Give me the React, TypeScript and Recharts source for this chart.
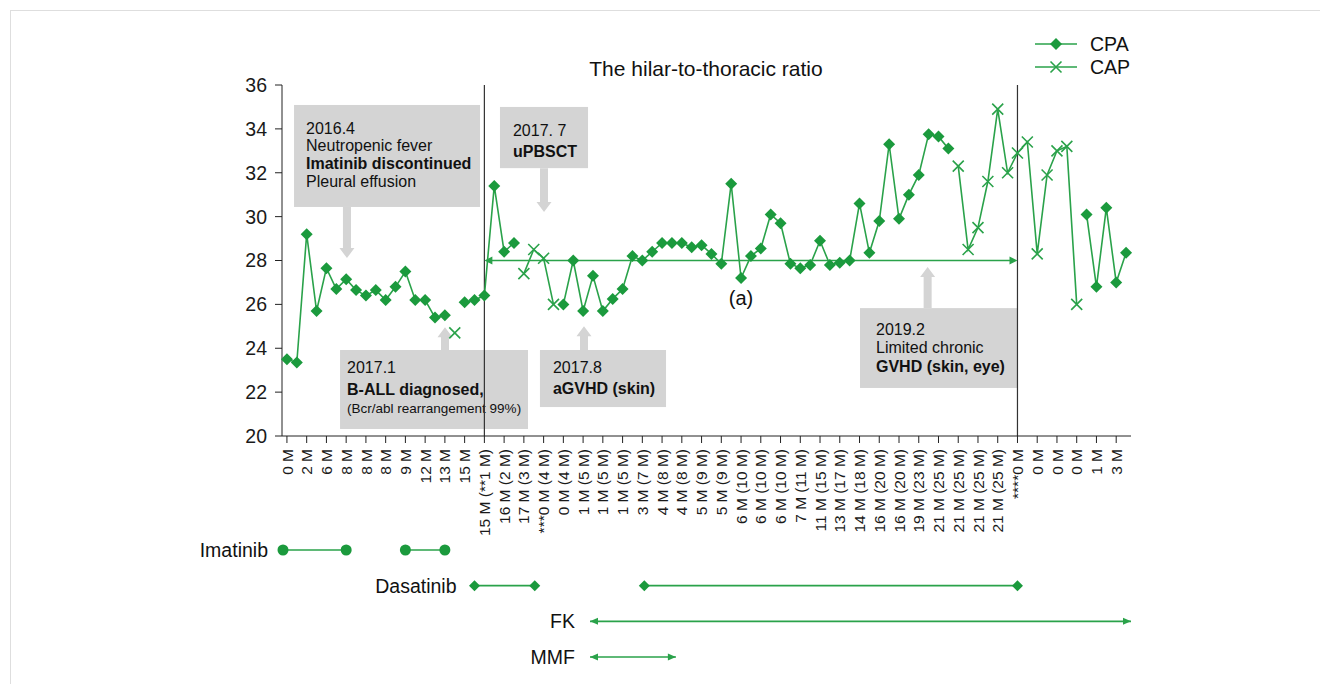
import React from "react";
import { LineChart, Line, XAxis, YAxis, ReferenceLine, ReferenceArea, ReferenceDot, Legend } from "recharts";

// every other category carries a label
const tickLabels = [
  "0 M", "2 M", "6 M", "8 M", "8 M", "8 M", "9 M", "12 M", "13 M", "15 M",
  "15 M (**1 M)", "16 M (2 M)", "17 M (3 M)", "***0 M (4 M)", "0 M (4 M)",
  "1 M (5 M)", "1 M (5 M)", "1 M (5 M)", "3 M (7 M)", "4 M (8 M)", "4 M (8 M)",
  "5 M (9 M)", "5 M (9 M)", "6 M (10 M)", "6 M (10 M)", "6 M (10 M)", "7 M (11 M)",
  "11 M (15 M)", "13 M (17 M)", "14 M (18 M)", "16 M (20 M)", "16 M (20 M)",
  "19 M (23 M)", "21 M (25 M)", "21 M (25 M)", "21 M (25 M)", "21 M (25 M)",
  "****0 M", "0 M", "0 M", "0 M", "1 M", "3 M",
];

const cpaValues = [
  23.5, 23.35, 29.2, 25.7, 27.65, 26.7, 27.15, 26.65, 26.4, 26.65,
  26.2, 26.8, 27.5, 26.2, 26.2, 25.4, 25.5, null, 26.1, 26.2,
  26.4, 31.4, 28.4, 28.8, null, null, null, null, 26.0, 28.0,
  25.7, 27.3, 25.7, 26.25, 26.7, 28.2, 28.0, 28.4, 28.8, 28.8,
  28.8, 28.6, 28.7, 28.3, 27.85, 31.5, 27.2, 28.2, 28.55, 30.1,
  29.7, 27.85, 27.65, 27.8, 28.9, 27.8, 27.9, 28.0, 30.6, 28.35,
  29.8, 33.3, 29.9, 31.0, 31.9, 33.75, 33.65, 33.1, null, null,
  null, null, null, null, null, null, null, null, null, null,
  null, 30.1, 26.8, 30.4, 27.0, 28.35,
];

const capValues = [
  null, null, null, null, null, null, null, null, null, null,
  null, null, null, null, null, null, null, 24.7, null, null,
  null, null, null, null, 27.4, 28.5, 28.1, 26.0, null, null,
  null, null, null, null, null, null, null, null, null, null,
  null, null, null, null, null, null, null, null, null, null,
  null, null, null, null, null, null, null, null, null, null,
  null, null, null, null, null, null, null, null, 32.3, 28.5,
  29.5, 31.6, 34.9, 32.0, 32.9, 33.4, 28.3, 31.9, 33.0, 33.2,
  26.0, null, null, null, null, null,
];

const yTicks = [20, 22, 24, 26, 28, 30, 32, 34, 36];

// treatment periods, in category positions
const imatinibSpans = [[-0.4, 6], [12, 16]];
const dasatinibSpans = [[19, 25.1], [36.2, 74]];
const fkSpans = [[30.7, 85.5]];
const mmfSpans = [[30.7, 39.4]];

const rows = cpaValues.map((v, i) => ({ idx: i, cpa: v, cap: capValues[i] }));
const tickIdx = tickLabels.map((_, i) => i * 2);

const GREEN = "#1b9a3d";
const LINE_GREEN = "#2aa24a";
const GREY = "#d4d4d4";
const FONT = "'Liberation Sans', Arial, Helvetica, sans-serif";

const diamondPath = (cx: number, cy: number, s: number) =>
  `M${cx},${cy - s}L${cx + s},${cy}L${cx},${cy + s}L${cx - s},${cy}Z`;

const CpaDot = (props: any) => {
  const { cx, cy, index, value } = props;
  if (value == null || cy == null || isNaN(cy)) return <g key={`cpa-${index}`} />;
  return <path key={`cpa-${index}`} d={diamondPath(cx, cy, 6)} fill={GREEN} />;
};

const xMark = (cx: number, cy: number, s: number, key?: string) => (
  <path key={key} d={`M${cx - s},${cy - s}L${cx + s},${cy + s}M${cx - s},${cy + s}L${cx + s},${cy - s}`}
    stroke={LINE_GREEN} strokeWidth={1.6} fill="none" />
);

const CapDot = (props: any) => {
  const { cx, cy, index, value } = props;
  if (value == null || cy == null || isNaN(cy)) return <g key={`cap-${index}`} />;
  return xMark(cx, cy, 5.5, `cap-${index}`);
};

const RotTick = (props: any) => {
  const { x, y, payload } = props;
  return (
    <text transform={`translate(${x},${y}) rotate(-90)`} textAnchor="end" dy="0.36em"
      fontSize={15.5} fill="#1a1a1a" fontFamily={FONT}>
      {tickLabels[payload.value / 2]}
    </text>
  );
};

const BlockArrow = (p: any) => {
  const { x1, y1, y2 } = p;
  const dir = y2 > y1 ? 1 : -1;
  const hb = y2 - dir * 10;
  const x = x1;
  return (
    <polygon
      points={`${x - 4},${y1} ${x + 4},${y1} ${x + 4},${hb} ${x + 7.5},${hb} ${x},${y2} ${x - 7.5},${hb} ${x - 4},${hb}`}
      fill={GREY} />
  );
};

const DoubleArrow = (p: any) => {
  const { x1, y1, x2, y2 } = p;
  return (
    <g>
      <line x1={x1 + 3} y1={y1} x2={x2 - 3} y2={y2} stroke={LINE_GREEN} strokeWidth={1.6} />
      <polygon points={`${x1},${y1} ${x1 + 8},${y1 - 4} ${x1 + 8},${y1 + 4}`} fill={LINE_GREEN} />
      <polygon points={`${x2},${y2} ${x2 - 8},${y2 - 4} ${x2 - 8},${y2 + 4}`} fill={LINE_GREEN} />
    </g>
  );
};

type NoteLine = { t: string; b?: boolean; s?: number; dy: number };
const makeBox = (lines: NoteLine[], padX: number) => (p: any) => {
  const { x, y, width, height } = p;
  return (
    <g>
      <rect x={x} y={y} width={width} height={height} fill={GREY} />
      {lines.map((l, i) => (
        <text key={i} x={x + padX} y={y + l.dy} fontSize={l.s || 16} fontWeight={l.b ? 700 : 400}
          fill="#111" fontFamily={FONT}>{l.t}</text>
      ))}
    </g>
  );
};

const notes = [
  {
    x: [0.72, 19.56], y: [30.44, 35.09], padX: 12, arrow: [6.08, 30.44, 28.11],
    lines: [
      { t: "2016.4", dy: 29 }, { t: "Neutropenic fever", dy: 46.5 },
      { t: "Imatinib discontinued", b: true, dy: 64 }, { t: "Pleural effusion", dy: 82 },
    ],
  },
  {
    x: [21.58, 30.5], y: [32.21, 35.0], padX: 13, arrow: [26.04, 32.21, 30.21],
    lines: [{ t: "2017. 7", dy: 29 }, { t: "uPBSCT", b: true, dy: 50 }],
  },
  {
    x: [5.38, 24.42], y: [20.32, 23.92], padX: 7, arrow: [16.01, 23.92, 24.96],
    lines: [
      { t: "2017.1", dy: 23 }, { t: "B-ALL diagnosed,", b: true, dy: 45 },
      { t: "(Bcr/abl rearrangement 99%)", s: 13.5, dy: 63 },
    ],
  },
  {
    x: [25.63, 38.4], y: [21.32, 23.92], padX: 13, arrow: [30.09, 23.92, 25.0],
    lines: [{ t: "2017.8", dy: 23 }, { t: "aGVHD (skin)", b: true, dy: 44 }],
  },
  {
    x: [58.05, 74], y: [22.19, 25.83], padX: 16, arrow: [64.9, 25.83, 27.7],
    lines: [
      { t: "2019.2", dy: 27 }, { t: "Limited chronic", dy: 45 },
      { t: "GVHD (skin, eye)", b: true, dy: 64 },
    ],
  },
];

const LegendContent = (props: any) => {
  const items = [...(props.payload || [])].sort((a: any, b: any) =>
    a.dataKey === "cpa" ? -1 : b.dataKey === "cpa" ? 1 : 0);
  return (
    <svg width={130} height={60}>
      {items.map((e: any, i: number) => {
        const y = 12 + i * 23;
        return (
          <g key={e.value}>
            <line x1={5} x2={47} y1={y} y2={y} stroke={LINE_GREEN} strokeWidth={1.6} />
            {e.dataKey === "cpa" ? <path d={diamondPath(26, y, 6)} fill={GREEN} /> : xMark(26, y, 5.5)}
            <text x={60} y={y} dy="0.36em" fontSize={19.5} fill="#111" fontFamily={FONT}>{e.value}</text>
          </g>
        );
      })}
    </svg>
  );
};

const treatments = [
  { name: "Imatinib", row: 4, spans: imatinibSpans, mark: "circle", gap: 15 },
  { name: "Dasatinib", row: 3, spans: dasatinibSpans, mark: "diamond", gap: 18 },
  { name: "FK", row: 2, spans: fkSpans, mark: "arrow", gap: 15 },
  { name: "MMF", row: 1, spans: mmfSpans, mark: "arrow", gap: 15 },
];

const makeTreatDot = (mark: string, label: string | null, gap: number) => (props: any) => {
  const { cx, cy, index } = props;
  let shape: any = null;
  if (mark === "circle") shape = <circle cx={cx} cy={cy} r={5.5} fill={GREEN} />;
  else if (mark === "diamond") shape = <path d={diamondPath(cx, cy, 5.5)} fill={GREEN} />;
  else {
    const d = index === 0 ? 1 : -1;
    shape = <polygon points={`${cx},${cy} ${cx + d * 8},${cy - 3.5} ${cx + d * 8},${cy + 3.5}`} fill={LINE_GREEN} />;
  }
  return (
    <g key={`t-${index}`}>
      {shape}
      {index === 0 && label ? (
        <text x={cx - gap} y={cy} dy="0.36em" textAnchor="end" fontSize={19.5} fill="#111" fontFamily={FONT}>{label}</text>
      ) : null}
    </g>
  );
};

export default function App() {
  return (
    <div style={{ position: "absolute", left: 0, top: 0, width: 1320, height: 684, background: "#fff", fontFamily: FONT }}>
      <div style={{ position: "absolute", left: 10, top: 10, width: 1310, height: 674, borderTop: "1px solid #dedede", borderLeft: "1px solid #dedede" }} />
      <div style={{ position: "absolute", left: 406, top: 57, width: 600, textAlign: "center", fontSize: 21, color: "#111" }}>
        The hilar-to-thoracic ratio
      </div>
      <div style={{ position: "absolute", left: 0, top: 0 }}>
        <LineChart width={1320} height={560} data={rows} margin={{ top: 85, right: 189, left: 222, bottom: 14 }}>
          <XAxis dataKey="idx" type="number" domain={[-0.5, 85.5]} ticks={tickIdx} interval={0}
            tick={<RotTick />} tickSize={7} tickMargin={6} height={110} stroke="#222" />
          <YAxis domain={[20, 36]} ticks={yTicks} width={60} tickSize={7} tickMargin={8} stroke="#222"
            tick={{ fontSize: 19.5, fill: "#1a1a1a", fontFamily: FONT }} />
          <Legend layout="horizontal" verticalAlign="middle" align="center" content={<LegendContent />}
            wrapperStyle={{ left: 1030, top: 32, width: 130 }} />
          {notes.map((n, i) => (
            <ReferenceArea key={`box-${i}`} x1={n.x[0]} x2={n.x[1]} y1={n.y[0]} y2={n.y[1]}
              ifOverflow="visible" shape={makeBox(n.lines, n.padX)} />
          ))}
          {notes.map((n, i) => (
            <ReferenceLine key={`arr-${i}`} segment={[{ x: n.arrow[0], y: n.arrow[1] }, { x: n.arrow[0], y: n.arrow[2] }]}
              ifOverflow="visible" shape={BlockArrow} />
          ))}
          <ReferenceLine x={20} stroke="#333" strokeWidth={1.2} />
          <ReferenceLine x={74} stroke="#333" strokeWidth={1.2} />
          <ReferenceLine segment={[{ x: 20, y: 28 }, { x: 74, y: 28 }]} ifOverflow="visible" shape={DoubleArrow} />
          <ReferenceDot x={46} y={26.3} ifOverflow="visible"
            shape={(p: any) => (
              <text x={p.cx} y={p.cy} dy="0.36em" textAnchor="middle" fontSize={20} fill="#111" fontFamily={FONT}>(a)</text>
            )} />
          <Line dataKey="cpa" name="CPA" stroke={LINE_GREEN} strokeWidth={1.6} dot={<CpaDot />} activeDot={false}
            connectNulls={false} isAnimationActive={false} />
          <Line dataKey="cap" name="CAP" stroke={LINE_GREEN} strokeWidth={1.6} dot={<CapDot />} activeDot={false}
            connectNulls={false} isAnimationActive={false} />
        </LineChart>
      </div>
      <div style={{ position: "absolute", left: 0, top: 520 }}>
        <LineChart width={1320} height={164} margin={{ top: 30, right: 189, left: 282, bottom: 27 }}>
          <XAxis dataKey="x" type="number" domain={[-0.5, 85.5]} hide />
          <YAxis dataKey="row" type="number" domain={[1, 4]} hide width={0} />
          {treatments.flatMap((t) =>
            t.spans.map((s, j) => (
              <Line key={`${t.name}-${j}`} data={[{ x: s[0], row: t.row }, { x: s[1], row: t.row }]}
                dataKey="row" stroke={LINE_GREEN} strokeWidth={1.6} activeDot={false}
                dot={makeTreatDot(t.mark, j === 0 ? t.name : null, t.gap)} isAnimationActive={false} />
            ))
          )}
        </LineChart>
      </div>
    </div>
  );
}
